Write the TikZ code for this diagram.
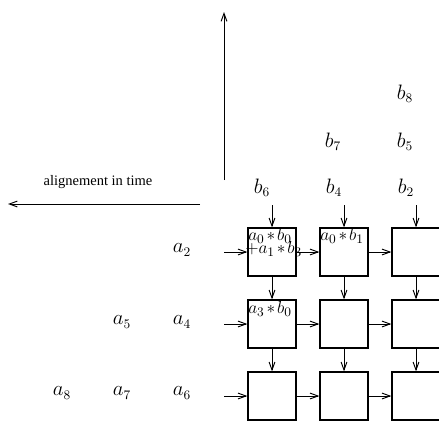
\documentclass[tikz,border=0pt]{standalone}
\usepackage{fontspec}
\newfontfamily\timesfont{Liberation Serif}
\usetikzlibrary{arrows.meta}
\newcommand\prodtxt[1]{$\medmuskip=2mu #1$}
\begin{document}
\begin{tikzpicture}[x=0.69pt,y=-0.69pt,
  cell/.style={draw,line width=0.9pt,rectangle,minimum size=33.1pt,inner sep=0pt},
  lab/.style={inner sep=0pt,font=\fontsize{13.5}{16}\selectfont},
  prod/.style={inner sep=0pt,anchor=west,font=\fontsize{13}{15}\selectfont},
  flow/.style={line width=0.65pt,-{Straight Barb[length=5.5pt,width=4pt]}},
  axis/.style={line width=0.65pt,-{Straight Barb[length=5.5pt,width=4pt]}}]
\useasboundingbox (0,0) rectangle (439,421);
\clip (0,0) rectangle (439,421);
% cells
\foreach \r/\y in {1/252,2/324,3/396}{
  \foreach \c/\x in {1/272,2/344,3/416}{
    \node[cell] (c\r\c) at (\x,\y) {};
  }
}
% connectors
\foreach \r/\y in {1/252,2/324,3/396}{
  \coordinate (in\r) at (224,\y);
  \draw[flow] (in\r) -- (c\r1.west);
  \draw[flow] (c\r1.east) -- (c\r2.west);
  \draw[flow] (c\r2.east) -- (c\r3.west);
}
\foreach \c/\x in {1/272,2/344,3/416}{
  \coordinate (top\c) at (\x,205);
  \draw[flow] (top\c) -- (c1\c.north);
  \draw[flow] (c1\c.south) -- (c2\c.north);
  \draw[flow] (c2\c.south) -- (c3\c.north);
}
% big axes
\coordinate (vs) at (224,180);
\coordinate (ve) at (224,12);
\draw[axis] (vs) -- (ve);
\coordinate (hs) at (200,204);
\coordinate (he) at (8,204);
\draw[axis] (hs) -- (he);
\node[inner sep=0pt,font=\timesfont\fontsize{10}{12}\selectfont] (time) at (98,182) {alignement in time};
% b labels
\node[lab] (b6) at (262,188) {$b_6$};
\node[lab] (b4) at (334,188) {$b_4$};
\node[lab] (b2) at (406,188) {$b_2$};
\node[lab] (b7) at (333,142) {$b_7$};
\node[lab] (b5) at (405,142) {$b_5$};
\node[lab] (b8) at (405,94) {$b_8$};
% a labels
\node[lab] (a2) at (182,250) {$a_2$};
\node[lab] (a4) at (182,322) {$a_4$};
\node[lab] (a5) at (122,322) {$a_5$};
\node[lab] (a6) at (182,393) {$a_6$};
\node[lab] (a7) at (122,393) {$a_7$};
\node[lab] (a8) at (62,393) {$a_8$};
% products
\node[prod] (p1) at (248,236) {\prodtxt{a_0*b_0}};
\node[prod] (p2) at (245,249) {\prodtxt{+a_1*b_3}};
\node[prod] (p3) at (320,236) {\prodtxt{a_0*b_1}};
\node[prod] (p4) at (248,309) {\prodtxt{a_3*b_0}};
\end{tikzpicture}
\end{document}
